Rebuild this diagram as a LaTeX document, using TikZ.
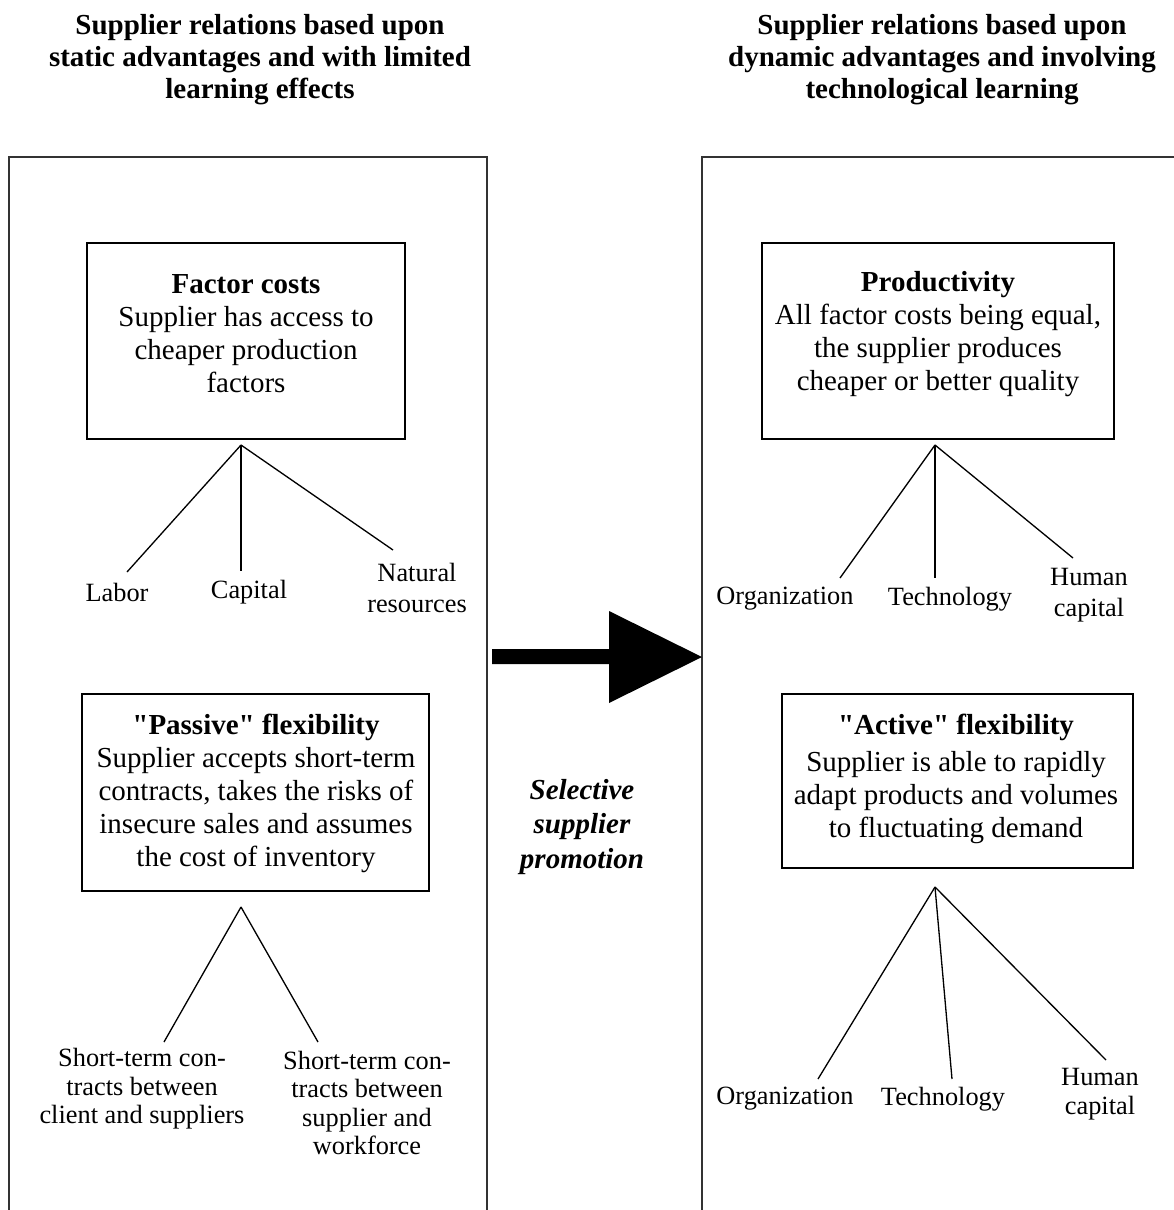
\documentclass[tikz,border=0pt]{standalone}
\usepackage{fontspec}
\setmainfont{Liberation Serif}
\usetikzlibrary{positioning}
\newcommand{\dq}{\XeTeXglyph\XeTeXglyphindex "quotedbl"\relax}

\begin{document}
\begin{tikzpicture}[x=0.02cm, y=-0.02cm,
	panel/.style={line width=0.8pt, draw=black!80},
	frame/.style={line width=1.3pt},
	branch/.style={line width=0.75pt},
	heading/.style={font=\fontsize{16.5}{18.2}\selectfont\bfseries, align=center},
	boxtext/.style={font=\fontsize{16.5}{18.8}\selectfont, align=center},
	leaf/.style={font=\fontsize{15}{18}\selectfont, align=center, inner sep=0pt},
	leafsmall/.style={leaf, font=\fontsize{15}{16.2}\selectfont}]
	\useasboundingbox				(0,0) rectangle (1173,1210);
	\node[heading] (titleL) at (260,60)	{Supplier relations based upon\\static advantages and with limited\\learning effects};
	\node[heading] (titleR) at (942,60)	{Supplier relations based upon\\dynamic advantages and involving\\technological learning};
	\draw[panel]					(9,1215) -- (9,157) -- (487,157) -- (487,1215);
	\draw[panel]					(702,1215) -- (702,157) -- (1180,157);
	\draw[frame]					(87,243) rectangle (405,439);
	\node[boxtext] (fc) at (246,334)	{\textbf{Factor costs}\\Supplier has access to\\cheaper production\\factors};
	\draw[frame]					(762,243) rectangle (1114,439);
	\node[boxtext] (prod) at (938,334)	{\textbf{Productivity}\\All factor costs being equal,\\the supplier produces\\cheaper or better quality};
	\coordinate (fcroot) at (241,445);
	\coordinate (fcA) at (127,572);
	\coordinate (fcB) at (241,571);
	\coordinate (fcC) at (393,550);
	\draw[branch] (fcroot) -- (fcA);
	\draw[branch] (fcroot) -- (fcB);
	\draw[branch] (fcroot) -- (fcC);
	\node[leaf] (labor) at (117,592)	{Labor};
	\node[leaf] (capital) at (249,592)	{Capital};
	\node[leaf] (natres) at (417,588)	{Natural\\resources};
	\coordinate (prodroot) at (935,445);
	\coordinate (prodA) at (840,578);
	\coordinate (prodB) at (935,578);
	\coordinate (prodC) at (1073,558);
	\draw[branch] (prodroot) -- (prodA);
	\draw[branch] (prodroot) -- (prodB);
	\draw[branch] (prodroot) -- (prodC);
	\node[leaf] (orgA) at (785,599)	{Organization};
	\node[leaf] (techA) at (950,599)	{Technology};
	\node[leaf] (humA) at (1089,595)	{Human\\capital};
	\fill						(492,649) -- (609,649) -- (609,611) -- (702,657) -- (609,703) -- (609,664) -- (492,664) -- cycle;
	\node[heading, font=\fontsize{16.5}{19.5}\selectfont\bfseries\itshape] (promo) at (582,827) {Selective\\supplier\\promotion};
	\draw[frame]					(82,694) rectangle (429,891);
	\node[boxtext] (passive) at (256,793)	{\textbf{\dq Passive\dq\ flexibility}\\Supplier accepts short-term\\contracts, takes the risks of\\insecure sales and assumes\\the cost of inventory};
	\coordinate (passroot) at (241,907);
	\coordinate (passA) at (164,1042);
	\coordinate (passB) at (318,1042);
	\draw[branch] (passroot) -- (passA);
	\draw[branch] (passroot) -- (passB);
	\node[leafsmall] (stcl) at (142,1089)	{Short-term con-\\tracts between\\client and suppliers};
	\node[leafsmall] (stsw) at (367,1103)	{Short-term con-\\tracts between\\supplier and\\workforce};
	\draw[frame]					(782,694) rectangle (1133,868);
	\node[boxtext] (active) at (956,779)	{\textbf{\dq Active\dq\ flexibility}\\[2pt]Supplier is able to rapidly\\adapt products and volumes\\to fluctuating demand};
	\coordinate (actroot) at (935,887);
	\coordinate (actA) at (818,1079);
	\coordinate (actB) at (952,1079);
	\coordinate (actC) at (1106,1060);
	\draw[branch] (actroot) -- (actA);
	\draw[branch] (actroot) -- (actB);
	\draw[branch] (actroot) -- (actC);
	\node[leaf] (orgB) at (785,1099)	{Organization};
	\node[leaf] (techB) at (943,1099)	{Technology};
	\node[leafsmall] (humB) at (1100,1094)	{Human\\capital};
\end{tikzpicture}
\end{document}
